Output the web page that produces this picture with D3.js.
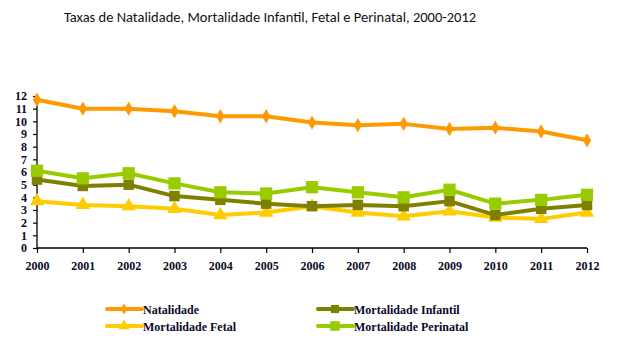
<!DOCTYPE html>
<html>
<head>
<meta charset="utf-8">
<script src="https://cdn.jsdelivr.net/npm/d3@7"></script>
<style>
  body { margin: 0; background: #fff; }
  svg { display: block; }
</style>
</head>
<body>
<svg id="chart" width="622" height="346"></svg>
<script>
// Taxas por ano, 2000-2012
const years = [2000, 2001, 2002, 2003, 2004, 2005, 2006, 2007, 2008, 2009, 2010, 2011, 2012];
const natalidade = [11.7, 11.0, 11.0, 10.8, 10.4, 10.4, 9.9, 9.7, 9.8, 9.4, 9.5, 9.2, 8.5];
const mortInfantil = [5.4, 4.9, 5.0, 4.1, 3.8, 3.5, 3.3, 3.4, 3.3, 3.7, 2.6, 3.1, 3.4];
const mortFetal = [3.7, 3.4, 3.3, 3.1, 2.6, 2.8, 3.3, 2.8, 2.5, 2.9, 2.4, 2.3, 2.8];
const mortPerinatal = [6.1, 5.5, 5.9, 5.1, 4.4, 4.3, 4.8, 4.4, 4.0, 4.6, 3.5, 3.8, 4.2];
const yTicks = [0, 1, 2, 3, 4, 5, 6, 7, 8, 9, 10, 11, 12];

const series = [
  { name: 'Natalidade', values: natalidade, color: '#FF9900', marker: 'diamond', size: 60 },
  { name: 'Mortalidade Infantil', values: mortInfantil, color: '#808000', marker: 'square', size: 110 },
  { name: 'Mortalidade Fetal', values: mortFetal, color: '#FFCC00', marker: 'triangle', size: 90 },
  { name: 'Mortalidade Perinatal', values: mortPerinatal, color: '#99CC00', marker: 'square', size: 150 }
];

const svg = d3.select('#chart');

const x = d3.scaleLinear().domain([2000, 2012]).range([37, 587]);
const y = d3.scaleLinear().domain([0, 12]).range([248, 96]);

svg.append('text')
  .attr('x', 270)
  .attr('y', 22)
  .attr('text-anchor', 'middle')
  .style('font-family', 'Carlito, "Open Sans", sans-serif')
  .style('font-size', '14.5px')
  .style('fill', '#111')
  .text('Taxas de Natalidade, Mortalidade Infantil, Fetal e Perinatal, 2000-2012');

// Axes
const yAxis = svg.append('g')
  .attr('transform', 'translate(37,0)')
  .call(d3.axisLeft(y).tickValues(yTicks).tickSize(4).tickPadding(6).tickFormat(d3.format('d')));

const xAxis = svg.append('g')
  .attr('transform', 'translate(0,248)')
  .call(d3.axisBottom(x).tickValues(years).tickSize(5).tickPadding(8).tickFormat(d3.format('d')));

[yAxis, xAxis].forEach(ax => {
  ax.select('.domain').attr('stroke', '#000').attr('stroke-width', 1.3);
  ax.selectAll('.tick line').attr('stroke', '#000').attr('stroke-width', 1.2);
  ax.selectAll('.tick text')
    .style('font-family', '"Liberation Serif", "Times New Roman", serif')
    .style('font-weight', 'bold')
    .style('font-size', '12px')
    .style('fill', '#0a0a28');
});
yAxis.select('.domain').attr('d', 'M0,248V96');
xAxis.select('.domain').attr('d', 'M37,0H587');

const symbolFor = s => {
  if (s.marker === 'diamond') return d3.symbol().type(d3.symbolDiamond).size(s.size);
  if (s.marker === 'triangle') return d3.symbol().type(d3.symbolTriangle).size(s.size);
  return d3.symbol().type(d3.symbolSquare).size(s.size);
};

const line = d3.line()
  .x((d, i) => x(years[i]))
  .y(d => y(d));

// Draw in order so the green perinatal line sits above the others
const drawOrder = [series[0], series[2], series[1], series[3]];
drawOrder.forEach(s => {
  const g = svg.append('g');
  g.append('path')
    .attr('d', line(s.values))
    .attr('fill', 'none')
    .attr('stroke', s.color)
    .attr('stroke-width', 4)
    .attr('stroke-linejoin', 'round');
  g.selectAll('path.pt')
    .data(s.values)
    .enter().append('path')
    .attr('class', 'pt')
    .attr('transform', (d, i) => `translate(${x(years[i])},${y(d)})`)
    .attr('d', symbolFor(s))
    .attr('fill', s.color);
});

// Legend
const legendPos = [
  { sx: 107, sy: 309 },
  { sx: 318, sy: 309 },
  { sx: 107, sy: 326 },
  { sx: 318, sy: 326 }
];
series.forEach((s, i) => {
  const p = legendPos[i];
  const lg = svg.append('g');
  lg.append('line')
    .attr('x1', p.sx).attr('x2', p.sx + 35)
    .attr('y1', p.sy).attr('y2', p.sy)
    .attr('stroke', s.color)
    .attr('stroke-width', 4)
    .attr('stroke-linecap', 'round');
  lg.append('path')
    .attr('transform', `translate(${p.sx + 17},${p.sy})`)
    .attr('d', symbolFor({ marker: s.marker, size: s.size * 0.6 }))
    .attr('fill', s.color);
  lg.append('text')
    .attr('x', p.sx + 36)
    .attr('y', p.sy + 5)
    .style('font-family', '"Liberation Serif", "Times New Roman", serif')
    .style('font-weight', 'bold')
    .style('font-size', '12px')
    .style('fill', '#0a0a28')
    .text(s.name);
});
</script>
</body>
</html>
